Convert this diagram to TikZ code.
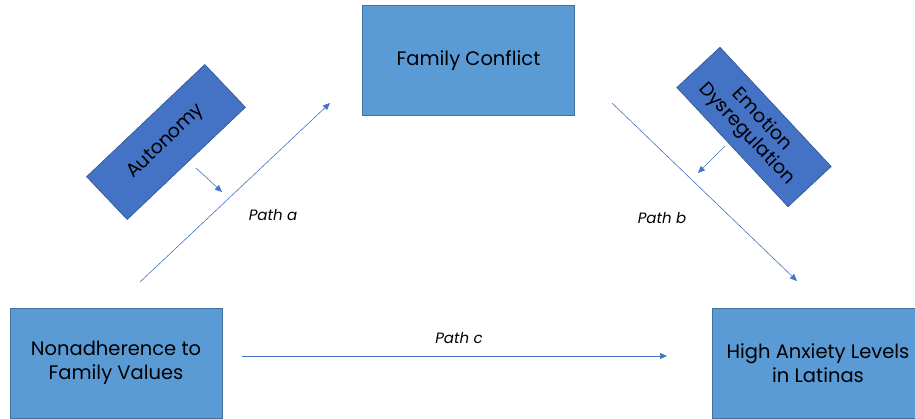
\documentclass[tikz,border=0pt]{standalone}
\usepackage{fontspec}
\setmainfont{Poppins}
\usepackage{tikz}
\usetikzlibrary{arrows.meta,positioning}
\definecolor{boxfill}{HTML}{5B9BD5}
\definecolor{boxline}{HTML}{41719C}
\definecolor{modfill}{HTML}{4472C4}
\definecolor{modline}{HTML}{2F528F}
\definecolor{arrline}{HTML}{4472C4}
\tikzset{
  varbox/.style={draw=boxline, fill=boxfill, line width=0.6pt,
    minimum width=212pt, minimum height=110pt, align=center,
    font=\fontsize{19.5}{24}\selectfont},
  modbox/.style={draw=modline, fill=modfill, line width=0.6pt,
    minimum width=163pt, minimum height=59pt, align=center, inner sep=1pt,
    font=\fontsize{19}{21}\selectfont},
  patharrw/.style={-{Triangle[length=7pt,width=6pt]}, draw=arrline, line width=0.6pt},
  pathlbl/.style={font=\fontsize{15}{17}\selectfont\itshape},
}
\begin{document}
\begin{tikzpicture}[x=1pt, y=-1pt]
  \clip (0,0) rectangle (915,419);

  \node[varbox] (conflict) at (468.5,60.5) {Family Conflict};
  \node[varbox] (nonadh) at (116,363) {Nonadherence to\\Family Values};
  \node[varbox] (anxiety) at (818,363) {High Anxiety Levels\\in Latinas};

  \node[modbox, rotate=43.5] (autonomy) at (166,142) {Autonomy};
  \node[modbox, rotate=-47] (emotion) at (754,127) {Emotion\\Dysregulation};

  % free ends of the paths
  \coordinate (a0) at (140,282);
  \coordinate (a1) at (330,103);
  \coordinate (b0) at (612,103);
  \coordinate (b1) at (797,281);
  \coordinate (c0) at (242,356);
  \coordinate (c1) at (667,356);
  \coordinate (m1) at (196,168);
  \coordinate (m2) at (222,192);
  \coordinate (m3) at (725,146);
  \coordinate (m4) at (698,173);

  \draw[patharrw] (a0) -- (a1);
  \draw[patharrw] (b0) -- (b1);
  \draw[patharrw] (c0) -- (c1);
  \draw[patharrw] (m1) -- (m2);
  \draw[patharrw] (m3) -- (m4);

  \node[pathlbl] (la) at (273,215) {Path a};
  \node[pathlbl] (lb) at (662,218) {Path b};
  \node[pathlbl] (lc) at (459,338) {Path c};
\end{tikzpicture}
\end{document}
